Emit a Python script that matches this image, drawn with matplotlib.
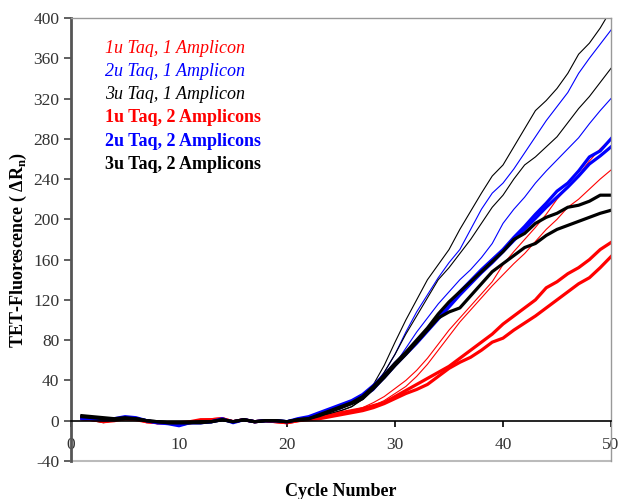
import numpy as np
import matplotlib
matplotlib.use("Agg")
import matplotlib.pyplot as plt

plt.rcParams["font.family"] = ["Liberation Serif", "DejaVu Serif"]
plt.rcParams["mathtext.fontset"] = "custom"
plt.rcParams["mathtext.rm"] = "Liberation Serif"
plt.rcParams["mathtext.bf"] = "Liberation Serif:bold"
plt.rcParams["axes.unicode_minus"] = False

cycles = list(range(1, 51))

# cycles 1-21 baseline, then 22-50
taq1_amp1_a = [1, 0, -1, 0, 1, 1, 0, -1, -2, -2, -1, 0, 0, 1, 0, 1, 0, 0, -1, -1, 0,
               2, 3, 5, 7, 9, 11, 15, 20, 27, 34, 44, 56, 70, 84, 98, 110, 122, 134, 145,
               156, 166, 178, 190, 200, 212, 220, 230, 240, 249]
taq1_amp1_b = [2, 1, 0, 1, 2, 1, 0, -1, -1, -2, -1, -1, 1, 1, 0, 1, 0, 0, -1, 0, 1,
               2, 4, 6, 8, 10, 13, 18, 24, 32, 40, 50, 62, 76, 90, 102, 114, 126, 138, 155,
               168, 180, 192, 205, 220, 232, 244, 258, 270, 280]
taq2_amp1_a = [2, 2, 1, 1, 3, 2, 0, -2, -2, -3, -2, -1, -1, 1, -1, 1, -1, 0, 0, -1, 1,
               3, 6, 9, 12, 18, 25, 35, 48, 66, 88, 108, 125, 142, 157, 170, 190, 210, 226, 236,
               250, 266, 282, 298, 312, 326, 345, 360, 374, 388]
taq2_amp1_b = [3, 2, 1, 2, 2, 2, 0, -1, -2, -3, -2, -2, 0, 2, -1, 1, -1, 1, 0, 0, 1,
               3, 6, 9, 12, 17, 23, 30, 42, 56, 72, 88, 102, 116, 128, 140, 150, 162, 176, 196,
               210, 222, 236, 248, 259, 270, 281, 295, 308, 320]
taq3_amp1_a = [1, 0, -2, 0, 2, 2, 0, -1, -2, -2, -2, -1, 0, 1, -1, 1, 0, 0, 0, -1, 1,
               2, 4, 7, 10, 14, 22, 36, 55, 78, 100, 120, 140, 155, 170, 190, 208, 226, 243, 254,
               272, 290, 308, 318, 330, 345, 364, 375, 390, 408]
taq3_amp1_b = [2, 1, 0, 1, 2, 2, 1, -1, -1, -2, -2, -1, 0, 1, 0, 1, -1, 0, 0, -1, 0,
               2, 4, 7, 10, 14, 21, 32, 48, 66, 86, 104, 122, 140, 152, 166, 180, 196, 212, 224,
               240, 254, 262, 272, 282, 296, 310, 322, 336, 350]
taq1_amp2_a = [3, 1, -1, 0, 2, 2, -1, -2, -2, -2, -2, 0, 1, 2, -1, 1, -1, 0, -1, -2, 0,
               2, 3, 5, 8, 10, 12, 15, 18, 24, 30, 36, 42, 48, 54, 62, 70, 78, 86, 96,
               104, 112, 120, 132, 138, 146, 152, 160, 170, 177]
taq1_amp2_b = [2, 1, 0, 1, 2, 1, -1, -2, -2, -2, -1, 1, 1, 2, -1, 1, -1, 0, -1, -2, 0,
               1, 2, 4, 6, 8, 10, 13, 17, 22, 27, 31, 36, 44, 52, 58, 63, 70, 78, 82,
               90, 97, 104, 112, 120, 128, 136, 142, 152, 163]
taq2_amp2_a = [2, 2, 1, 2, 4, 3, 0, -2, -3, -5, -2, -2, -1, 2, -2, 1, -1, 0, 0, -1, 2,
               4, 8, 12, 16, 20, 26, 35, 45, 57, 67, 78, 90, 103, 116, 128, 139, 150, 160, 170,
               182, 193, 205, 216, 228, 236, 248, 262, 268, 280]
taq2_amp2_b = [3, 2, 1, 1, 3, 2, 0, -2, -2, -4, -2, -2, -1, 1, -1, 1, -1, 0, 0, -1, 1,
               3, 7, 11, 15, 19, 25, 33, 43, 55, 66, 77, 89, 101, 113, 125, 136, 147, 157, 168,
               179, 190, 201, 212, 222, 232, 243, 255, 263, 272]
taq3_amp2_a = [5, 4, 3, 2, 3, 2, 0, -1, -2, -2, -2, -1, -1, 1, -1, 1, -1, 0, 0, -1, 1,
               2, 6, 10, 14, 18, 24, 34, 45, 57, 68, 80, 92, 106, 118, 128, 138, 148, 158, 168,
               180, 186, 196, 202, 206, 212, 214, 218, 224, 224]
taq3_amp2_b = [4, 3, 2, 1, 2, 2, 0, -1, -2, -2, -2, -2, -1, 1, -1, 1, -1, 0, 0, -1, 1,
               2, 5, 9, 13, 17, 22, 32, 43, 55, 66, 78, 90, 102, 108, 112, 124, 136, 148, 156,
               164, 172, 176, 184, 190, 194, 198, 202, 206, 209]

series = [
    (taq1_amp1_a, taq1_amp1_b, "red", 0.8),
    (taq2_amp1_a, taq2_amp1_b, "blue", 0.8),
    (taq3_amp1_a, taq3_amp1_b, "black", 0.8),
    (taq1_amp2_a, taq1_amp2_b, "red", 2.3),
    (taq2_amp2_a, taq2_amp2_b, "blue", 2.3),
    (taq3_amp2_a, taq3_amp2_b, "black", 2.3),
]
labels = ["1u Taq, 1 Amplicon", "2u Taq, 1 Amplicon", "3u Taq, 1 Amplicon",
          "1u Taq, 2 Amplicons", "2u Taq, 2 Amplicons", "3u Taq, 2 Amplicons"]

fig = plt.figure(figsize=(6.18, 4.99), dpi=100)
ax = fig.add_axes([0.115, 0.0762, 0.8737, 0.8878])

for a, b, color, lw in series:
    ax.plot(cycles, a, color=color, lw=lw)
    ax.plot(cycles, b, color=color, lw=lw)

ax.set_xlim(0, 50)
ax.set_ylim(-40, 400)
ax.set_yticks(range(-40, 401, 40))
ax.set_xticks(range(0, 51, 10))

ax.spines["bottom"].set_position(("data", 0))
ax.spines["bottom"].set_color("black")
ax.spines["bottom"].set_linewidth(1.2)
ax.spines["left"].set_color("#555555")
ax.spines["left"].set_linewidth(2)
for s in ["top", "right"]:
    ax.spines[s].set_color("#999999")
    ax.spines[s].set_linewidth(1)
ax.axhline(-40, color="#bbbbbb", lw=1.5, clip_on=False)

ax.tick_params(axis="y", direction="out", length=5, width=1.2, colors="#444444",
               labelsize=12.5, labelcolor="#333333")
ax.tick_params(axis="x", direction="out", length=4, width=1.2, pad=8,
               labelsize=12.5, labelcolor="#333333")

for i, (lab, (_, _, color, lw)) in enumerate(zip(labels, series)):
    style = "italic" if lw < 1 else "normal"
    weight = "bold" if lw > 1 else "normal"
    ax.text(0.063, 0.932 - i * 0.0525, lab, transform=ax.transAxes, color=color,
            fontsize=13, style=style, weight=weight, va="center")

fig.text(0.551, 0.016, "Cycle Number", ha="center", va="center",
         fontsize=13, weight="bold")
fig.text(0.03, 0.5, r"TET-Fluorescence ( $\mathbf{\Delta}$R$_\mathbf{n}$)",
         ha="center", va="center", rotation=90, fontsize=13, weight="bold")

fig.savefig("out.png", dpi=100)
